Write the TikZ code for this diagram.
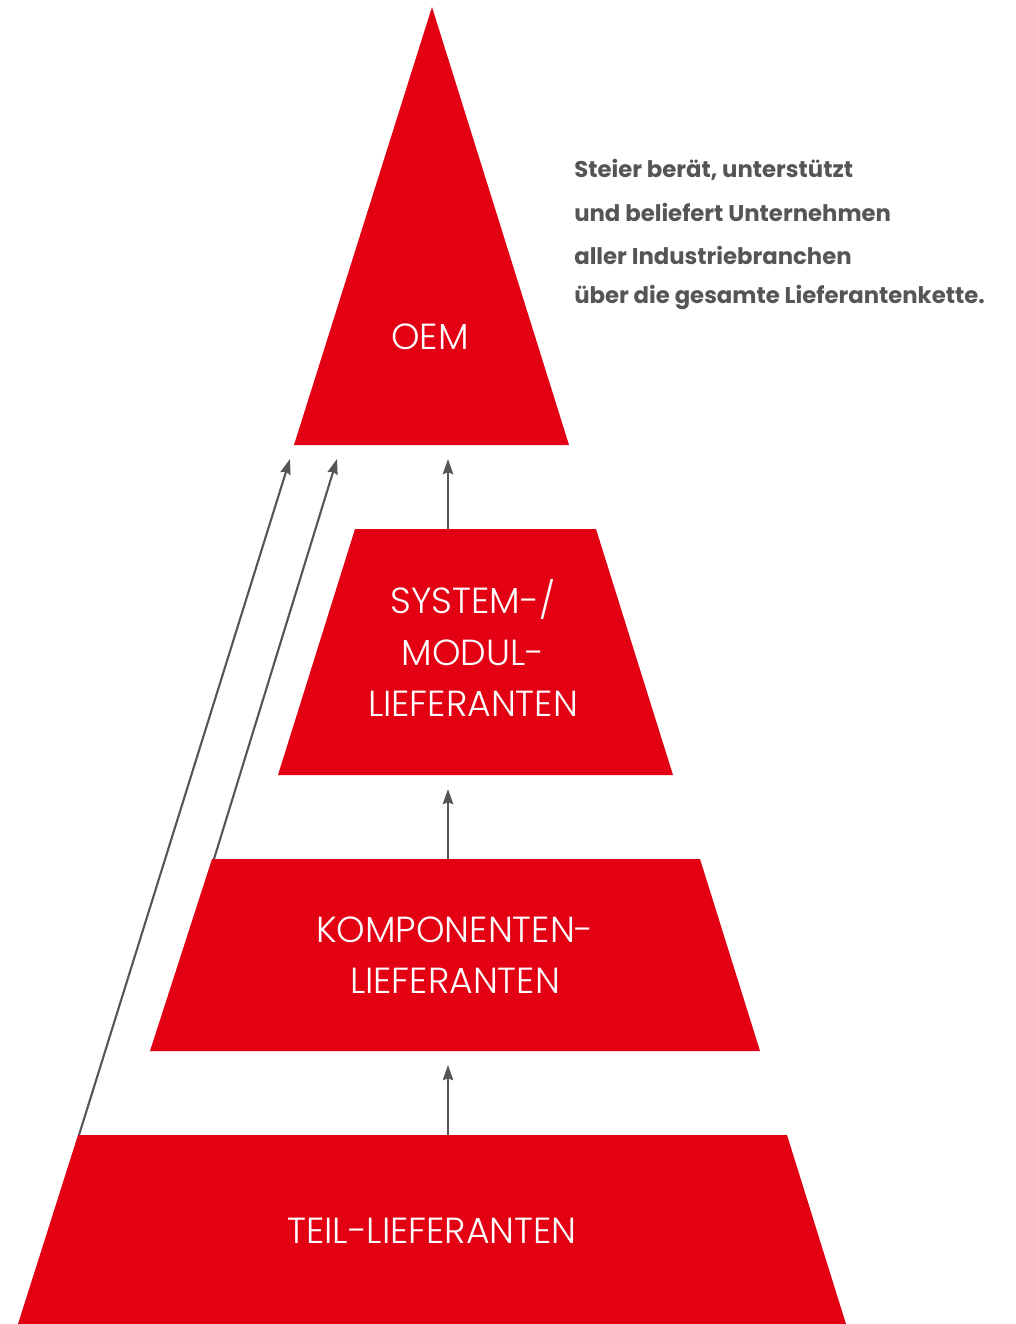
\documentclass[tikz,border=0pt]{standalone}
\usepackage{fontspec}
\setmainfont{Poppins}
\newfontfamily\poplight{Poppins}[UprightFont=* Light]
\usetikzlibrary{positioning}
\usetikzlibrary{arrows.meta}

\definecolor{steierred}{RGB}{226, 0, 18}
\definecolor{arrowgray}{RGB}{85, 85, 85}

\tikzset{
	tier/.style = {fill = steierred},
	tierlabel/.style = {text = white, align = center, font = \poplight\fontsize{25.8}{36.5}\selectfont},
	uparrow/.style = {arrowgray, line width = 1.5pt, -{Stealth[length = 0.38cm, width = 0.26cm, inset = 0.05cm]}},
	claim/.style = {text = arrowgray, anchor = west, inner sep = 0pt, font = \bfseries\fontsize{16.2}{20}\selectfont}
}

\begin{document}
\begin{tikzpicture}[x = 0.025cm, y = -0.025cm]
					\useasboundingbox (0, 0) rectangle (1016, 1324);
					\fill [tier] (432, 7) -- (569, 445) -- (294, 445) -- cycle;
					\fill [tier] (355, 529) -- (596, 529) -- (673, 775) -- (278, 775) -- cycle;
					\fill [tier] (212, 859) -- (700, 859) -- (760, 1051) -- (150, 1051) -- cycle;
					\fill [tier] (78, 1135) -- (787, 1135) -- (846, 1324) -- (18, 1324) -- cycle;
					\node [tierlabel] (oem) at (430, 337) {OEM};
					\node [tierlabel] (system) at (473, 648) {SYSTEM-/\\MODUL-\\LIEFERANTEN};
					\node [tierlabel] (komponenten) at (455, 955) {KOMPONENTEN-\\LIEFERANTEN};
					\node [tierlabel] (teil) at (432, 1231) {TEIL-LIEFERANTEN};
					\coordinate (system-top) at (448, 529);
					\coordinate (komponenten-top) at (448, 859);
					\coordinate (komponenten-corner) at (214, 859);
					\coordinate (teil-top) at (448, 1135);
					\coordinate (teil-corner) at (79, 1135);
					\coordinate (oem-in) at (448, 459);
					\coordinate (oem-komponenten) at (337, 459);
					\coordinate (oem-teil) at (290, 459);
					\coordinate (system-in) at (448, 789);
					\coordinate (komponenten-in) at (448, 1065);
					\draw [uparrow] (system-top) -- (oem-in);
					\draw [uparrow] (komponenten-top) -- (system-in);
					\draw [uparrow] (teil-top) -- (komponenten-in);
					\draw [uparrow] (komponenten-corner) -- (oem-komponenten);
					\draw [uparrow] (teil-corner) -- (oem-teil);
					\node [claim] (claim1) at (574, 170) {Steier berät, unterstützt};
					\node [claim] (claim2) at (574, 212) {und beliefert Unternehmen};
					\node [claim] (claim3) at (574, 255) {aller Industriebranchen};
					\node [claim] (claim4) at (574, 298) {über die gesamte Lieferantenkette.};
				\end{tikzpicture}
\end{document}
